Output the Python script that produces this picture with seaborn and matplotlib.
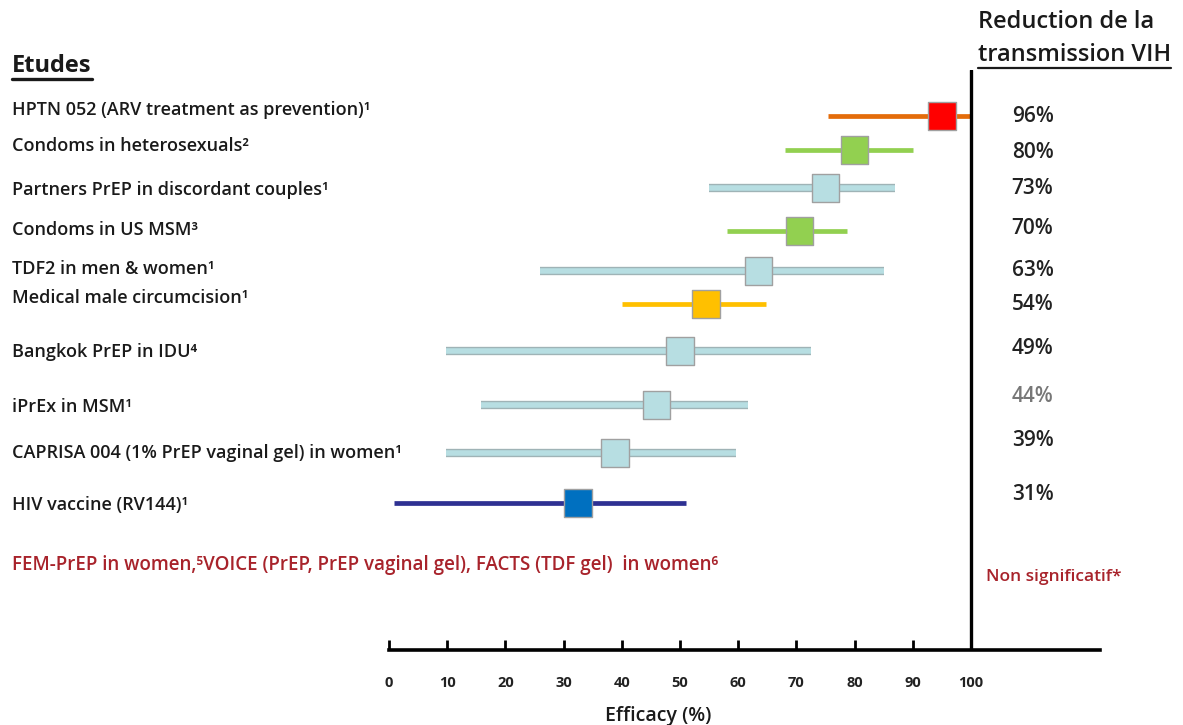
import matplotlib
matplotlib.use("Agg")
import matplotlib.pyplot as plt
import matplotlib.patheffects as pe
from matplotlib.lines import Line2D
from matplotlib import transforms
import seaborn as sns

# ---------------- data ----------------
studies = [
    "HPTN 052 (ARV treatment as prevention)¹",
    "Condoms in heterosexuals²",
    "Partners PrEP in discordant couples¹",
    "Condoms in US MSM³",
    "TDF2 in men & women¹",
    "Medical male circumcision¹",
    "Bangkok PrEP in IDU⁴",
    "iPrEx in MSM¹",
    "CAPRISA 004 (1% PrEP vaginal gel) in women¹",
    "HIV vaccine (RV144)¹",
]
estimate = [95, 80, 75, 70.5, 63.5, 54.5, 50, 46, 38.8, 32.5]
ci_low = [75.5, 68, 55, 58, 26, 40, 9.8, 15.8, 9.8, 0.8]
ci_high = [100, 90, 87, 78.7, 85, 64.8, 72.5, 61.7, 59.6, 51]
reduction_labels = ["96%", "80%", "73%", "70%", "63%", "54%", "49%", "44%", "39%", "31%"]
x_ticks = [0, 10, 20, 30, 40, 50, 60, 70, 80, 90, 100]

# ---------------- styles / layout ----------------
line_colors = ["#E46C0A", "#92D050", "#B7DEE2", "#92D050", "#B7DEE2",
               "#FFC000", "#B7DEE2", "#B7DEE2", "#B7DEE2", "#2E3192"]
marker_colors = ["#FF0000", "#92D050", "#B7DEE2", "#92D050", "#B7DEE2",
                 "#FFC000", "#B7DEE2", "#B7DEE2", "#B7DEE2", "#0070C0"]
outlined = [False, False, True, False, True, False, True, True, True, False]
row_y = [116, 150, 188, 231, 271, 304, 351, 405, 453, 503]       # vertical slots (px from top)
label_y = [110, 146, 190, 230, 269, 298, 352, 407, 453, 505]
pct_y = [116, 153, 188, 228, 270, 305, 349, 396, 441, 494]
pct_colors = ["#222222"] * 7 + ["#777777"] + ["#222222"] * 2
DARK_RED = "#A8232B"
TXT = "#1a1a1a"

sns.set_theme(style="white")
FONT = ["Open Sans", "DejaVu Sans"]
plt.rcParams["font.family"] = FONT

W, H = 1183, 725
fig = plt.figure(figsize=(W / 100, H / 100), dpi=100)
fig.patch.set_facecolor("white")

ax_left, ax_right = 389, 1100
ax_top, ax_bottom = 70, 650
ax = fig.add_axes([ax_left / W, (H - ax_bottom) / H,
                   (ax_right - ax_left) / W, (ax_bottom - ax_top) / H])
ax.set_facecolor("white")
px_per_unit = 5.82
ax.set_xlim(0, (ax_right - ax_left) / px_per_unit)
ax.set_ylim(ax_bottom, ax_top)

# confidence interval lines
for i in range(len(studies)):
    effects = [pe.Stroke(linewidth=6.0, foreground="#9FB3B6"), pe.Normal()] if outlined[i] else None
    ax.plot([ci_low[i], ci_high[i]], [row_y[i], row_y[i]], color=line_colors[i],
            lw=4.0 if outlined[i] else 3.4, solid_capstyle="butt", zorder=2,
            path_effects=effects)

# point estimates (squares)
sns.scatterplot(x=estimate, y=row_y, hue=studies, palette=marker_colors,
                marker="s", s=390, edgecolor="#A0A0A0", linewidth=1.0,
                legend=False, ax=ax, zorder=3)
ax.set_ylim(ax_bottom, ax_top)

# reference line at 100 %
ax.axvline(100, color="black", lw=2.4, zorder=4)

# axes styling
for s in ["left", "top", "right"]:
    ax.spines[s].set_visible(False)
ax.spines["bottom"].set_color("black")
ax.spines["bottom"].set_linewidth(2.6)
ax.set_yticks([])
ax.set_xticks(x_ticks)
ax.set_xticklabels([str(t) for t in x_ticks], fontsize=10.5, fontweight="bold", color="#222222")
ax.tick_params(axis="x", direction="in", length=7, width=2, color="black", pad=19, bottom=True)
ax.set_xlabel("Efficacy (%)", fontsize=14, color=TXT, fontweight=600)
ax.xaxis.set_label_coords((658 - ax_left) / (ax_right - ax_left), -0.097)

# study labels on the left
trans_left = transforms.blended_transform_factory(fig.transFigure, ax.transData)
for name, y in zip(studies, label_y):
    ax.text(12 / W, y, name, transform=trans_left, ha="left", va="center",
            fontsize=13, fontweight=600, color=TXT, family=FONT, clip_on=False)

ax.text(12 / W, 565, "FEM-PrEP in women,⁵VOICE (PrEP, PrEP vaginal gel), FACTS (TDF gel)  in women⁶",
        transform=trans_left, ha="left", va="center", fontsize=13.5, fontweight=600,
        color=DARK_RED, family=FONT, clip_on=False)

# reduction percentages on the right
for lab, y, c in zip(reduction_labels, pct_y, pct_colors):
    ax.text(107, y, lab, ha="left", va="center", fontsize=15, fontweight=600,
            color=c, family=FONT, clip_on=False)
ax.text(102.5, 577, "Non significatif*", ha="left", va="center", fontsize=12.5,
        fontweight=600, color=DARK_RED, family=FONT, clip_on=False)

# headers
t_etudes = fig.text(12 / W, 1 - 66 / H, "Etudes", ha="left", va="center",
                    fontsize=17, fontweight="bold", color=TXT)
fig.text(978 / W, 1 - 22 / H, "Reduction de la", ha="left", va="center",
         fontsize=17, fontweight=600, color=TXT)
t_vih = fig.text(978 / W, 1 - 55 / H, "transmission VIH", ha="left", va="center",
                 fontsize=17, fontweight=600, color=TXT)

# underline headers
fig.canvas.draw()
renderer = fig.canvas.get_renderer()
for t, lw in ((t_etudes, 2.4), (t_vih, 1.6)):
    bb = t.get_window_extent(renderer)
    y = bb.y0 - 1
    p0 = fig.transFigure.inverted().transform((bb.x0, y))
    p1 = fig.transFigure.inverted().transform((bb.x1, y))
    fig.add_artist(Line2D([p0[0], p1[0]], [p0[1], p1[1]], transform=fig.transFigure,
                          color=TXT, lw=lw))

fig.savefig("out.png", dpi=100, facecolor="white")
